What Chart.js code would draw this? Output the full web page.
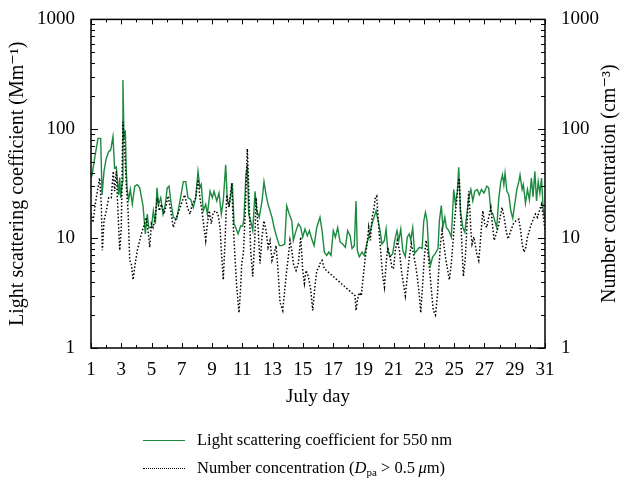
<!DOCTYPE html>
<html>
<head>
<meta charset="utf-8">
<script src="https://cdn.jsdelivr.net/npm/chart.js@4.4.1/dist/chart.umd.min.js"></script>
<style>
  body { margin: 0; background: #fff; }
  #wrap { position: relative; width: 628px; height: 487px; }
  #chart { position: absolute; left: 0; top: 0; }
  .key { position: absolute; left: 143px; font: 16.5px "Liberation Serif", serif; color: #000; white-space: nowrap; }
  .key .sample { position: absolute; left: 0; top: 50%; width: 42px; }
  .key .label { position: absolute; left: 54px; top: -10px; }
  .key sub { font-size: 11px; vertical-align: -3px; line-height: 0; }
</style>
</head>
<body>
<div id="wrap">
  <canvas id="chart" width="628" height="487"></canvas>
  <div class="key" style="top:440px">
    <div class="sample" style="border-top:1.3px solid #1b8a3e"></div>
    <div class="label">Light scattering coefficient for 550&#8201;nm</div>
  </div>
  <div class="key" style="top:468px">
    <div class="sample" style="border-top:1.3px dotted #000"></div>
    <div class="label">Number concentration (<i>D</i><sub>pa</sub> &gt; 0.5&#8201;<i>μ</i>m)</div>
  </div>
</div>
<script>
// light scattering coefficient, Mm-1
const scatDays = [1.0, 1.07, 1.25, 1.46, 1.64, 1.73, 1.86, 2.01, 2.17, 2.3, 2.45, 2.56, 2.67, 2.83, 2.9, 2.96, 3.07, 3.11, 3.18, 3.27, 3.33, 3.4, 3.49, 3.6, 3.73, 3.89, 4.06, 4.22, 4.44, 4.59, 4.72, 4.81, 4.99, 5.12, 5.25, 5.36, 5.47, 5.61, 5.76, 5.91, 6.04, 6.16, 6.27, 6.44, 6.66, 6.88, 7.1, 7.26, 7.41, 7.59, 7.76, 7.92, 8.07, 8.2, 8.29, 8.42, 8.58, 8.69, 8.87, 9.02, 9.13, 9.31, 9.46, 9.61, 9.74, 9.9, 10.01, 10.14, 10.34, 10.45, 10.56, 10.72, 10.89, 11.03, 11.11, 11.24, 11.33, 11.42, 11.55, 11.69, 11.84, 11.95, 12.12, 12.3, 12.43, 12.57, 12.7, 12.83, 12.96, 13.1, 13.27, 13.45, 13.62, 13.8, 13.93, 14.1, 14.27, 14.37, 14.55, 14.7, 14.86, 14.99, 15.14, 15.3, 15.43, 15.59, 15.74, 15.92, 16.13, 16.27, 16.42, 16.58, 16.71, 16.86, 17.01, 17.15, 17.3, 17.46, 17.63, 17.81, 17.96, 18.12, 18.25, 18.4, 18.51, 18.6, 18.73, 18.91, 19.06, 19.22, 19.35, 19.51, 19.66, 19.84, 19.97, 20.1, 20.23, 20.39, 20.5, 20.61, 20.76, 20.94, 21.07, 21.22, 21.34, 21.47, 21.6, 21.77, 21.9, 22.04, 22.13, 22.26, 22.39, 22.55, 22.7, 22.88, 22.99, 23.1, 23.21, 23.32, 23.43, 23.58, 23.76, 23.93, 24.02, 24.15, 24.25, 24.38, 24.48, 24.64, 24.81, 24.97, 25.08, 25.21, 25.3, 25.41, 25.57, 25.7, 25.85, 25.96, 26.1, 26.23, 26.36, 26.53, 26.66, 26.8, 26.97, 27.15, 27.28, 27.42, 27.55, 27.68, 27.81, 27.95, 28.08, 28.19, 28.28, 28.36, 28.48, 28.61, 28.74, 28.87, 29.0, 29.14, 29.27, 29.35, 29.49, 29.57, 29.71, 29.84, 29.97, 30.1, 30.21, 30.33, 30.44, 30.55, 30.66, 30.77, 30.88, 31.0];
const scatValues = [36, 38, 55, 82, 82, 25, 41, 54, 62, 64, 85, 44, 45, 25, 36, 23.5, 33, 280, 82, 97, 41, 27, 22.7, 28, 20.5, 30, 31, 29, 19.8, 11, 16.7, 12.6, 12.6, 17.9, 13.6, 29, 20.5, 23.5, 16.7, 20.5, 29, 30, 22, 15.6, 15, 22, 33, 33, 23.5, 22.7, 19.2, 23.5, 41, 29, 31, 17.9, 20.5, 16.7, 27, 23.5, 27, 22, 26, 16.7, 22, 47, 22, 20.5, 32, 13.6, 12.6, 11, 13, 13, 15.6, 38, 47, 16.7, 14.5, 11.8, 27, 17.9, 15.6, 22, 33, 25, 20.5, 17.9, 15.6, 12.6, 10.3, 8.6, 8.6, 8.9, 19.8, 16.7, 14.5, 9.6, 11.8, 13.6, 12.6, 10.3, 12.2, 10.6, 11.8, 9.9, 8.6, 12.6, 15.6, 11.8, 7.5, 7.0, 7.5, 7.0, 11.8, 10.3, 12.6, 9.3, 8.9, 8.3, 11.8, 10.6, 8.1, 8.6, 22, 7.8, 6.8, 7.5, 7.0, 8.9, 10.3, 12.6, 15, 17.9, 14.5, 11.8, 8.9, 9.6, 12.2, 7.8, 6.8, 7.3, 9.6, 11.8, 9.6, 12.2, 7.8, 6.8, 10.3, 11, 9.6, 12.5, 7.3, 7.8, 8.3, 8.1, 14.5, 17.3, 14.5, 7.3, 5.7, 6.8, 7.3, 8.1, 14.5, 20, 12.6, 15.6, 12.6, 11.8, 10.3, 28, 20.5, 27, 44.6, 17.9, 12.6, 11.4, 17.3, 23.5, 28, 22, 27, 28, 25, 28, 26, 30, 29, 17.9, 16.7, 14.5, 12.6, 23.5, 33, 38, 31, 39.5, 27, 25, 17.9, 15.3, 20.5, 28, 33, 38, 28, 31, 21, 28, 22.5, 35.6, 24, 41, 22, 33, 26, 35.6, 18.5, 15];

// particle number concentration (Dpa > 0.5 um), cm-3
const numDays = [1.0, 1.13, 1.28, 1.46, 1.57, 1.68, 1.75, 1.86, 2.01, 2.17, 2.34, 2.47, 2.56, 2.67, 2.78, 2.9, 3.0, 3.11, 3.23, 3.33, 3.45, 3.56, 3.66, 3.78, 3.89, 4.06, 4.22, 4.39, 4.55, 4.65, 4.77, 4.88, 4.99, 5.1, 5.25, 5.38, 5.51, 5.65, 5.82, 5.94, 6.09, 6.27, 6.44, 6.6, 6.82, 7.03, 7.19, 7.37, 7.54, 7.7, 7.92, 8.07, 8.2, 8.36, 8.47, 8.58, 8.69, 8.82, 8.95, 9.08, 9.24, 9.39, 9.53, 9.61, 9.74, 9.86, 9.97, 10.12, 10.3, 10.41, 10.5, 10.63, 10.78, 10.89, 10.96, 11.07, 11.18, 11.33, 11.44, 11.55, 11.69, 11.82, 11.91, 12.04, 12.17, 12.3, 12.43, 12.57, 12.7, 12.83, 12.96, 13.1, 13.23, 13.36, 13.49, 13.67, 13.82, 13.93, 14.04, 14.15, 14.27, 14.37, 14.55, 14.7, 14.86, 14.99, 15.1, 15.21, 15.36, 15.52, 15.65, 15.79, 15.92, 16.05, 16.13, 16.27, 16.42, 18.45, 18.51, 18.62, 18.73, 18.86, 18.99, 19.13, 19.24, 19.35, 19.46, 19.57, 19.68, 19.79, 19.88, 19.97, 20.06, 20.17, 20.28, 20.39, 20.5, 20.61, 20.76, 20.9, 21.0, 21.11, 21.24, 21.38, 21.51, 21.64, 21.77, 21.9, 22.04, 22.17, 22.3, 22.43, 22.56, 22.7, 22.79, 22.92, 23.03, 23.14, 23.27, 23.38, 23.49, 23.62, 23.76, 23.89, 23.98, 24.09, 24.2, 24.31, 24.42, 24.53, 24.68, 24.81, 24.93, 25.04, 25.14, 25.26, 25.34, 25.43, 25.52, 25.61, 25.74, 25.87, 25.96, 26.03, 26.1, 26.18, 26.3, 26.49, 26.62, 26.7, 26.8, 26.89, 27.02, 27.15, 27.28, 27.42, 27.5, 27.64, 27.77, 27.9, 28.03, 28.16, 28.3, 28.43, 28.56, 28.74, 28.91, 29.08, 29.27, 29.39, 29.51, 29.62, 29.73, 29.84, 29.97, 30.1, 30.23, 30.37, 30.5, 30.63, 30.77, 30.9, 31.0];
const numValues = [17, 14, 20.5, 29, 35.6, 20.5, 7.8, 14.5, 17.9, 23.5, 23.5, 41, 27, 41, 17.9, 7.8, 12.6, 116, 62, 31, 17.9, 6.3, 5.9, 4.2, 5.5, 7.8, 9.6, 11.8, 13.6, 15.6, 11.8, 8.3, 13.6, 12.6, 15.6, 23.5, 17.9, 20.5, 16.7, 19.2, 24.4, 17.9, 12.6, 15, 17.9, 22, 25, 19.2, 16.7, 20.5, 23.5, 34.4, 23.5, 16.7, 12.6, 9.6, 13.6, 17.9, 13.6, 17.3, 17.9, 16.7, 12.6, 7.8, 4.2, 9.6, 25, 19.2, 32, 12.6, 7.3, 3.6, 2.1, 3.6, 5.9, 7.3, 15.6, 66, 23.5, 7.8, 4.5, 9.6, 23.5, 12.6, 5.9, 10.3, 14.5, 11.8, 8.3, 9.6, 6.3, 7.3, 8.6, 5.1, 2.6, 2.2, 3.6, 5.1, 6.8, 9.6, 7.8, 5.9, 5.1, 5.9, 10.3, 5.1, 3.9, 5.1, 4.5, 3.4, 2.2, 3.6, 5.1, 5.4, 5.9, 6.3, 5.3, 3.0, 2.2, 2.8, 3.2, 3.0, 4.5, 6.8, 8.9, 12.6, 9.6, 15.6, 17.9, 23.5, 24.4, 15.6, 10.3, 6.8, 4.5, 3.6, 5.9, 8.3, 6.8, 5.3, 5.4, 7.8, 9.6, 7.8, 5.1, 3.9, 3.0, 4.5, 6.8, 8.9, 7.3, 5.9, 4.5, 3.0, 2.1, 3.9, 6.8, 9.6, 7.3, 5.1, 3.4, 2.2, 2.0, 3.0, 5.1, 8.9, 11.8, 8.9, 6.8, 5.5, 4.2, 5.9, 9.6, 15.6, 20.5, 31, 35.6, 15.6, 7.8, 4.5, 6.8, 15.6, 27, 19.2, 11.8, 8.9, 10.3, 7.3, 6.3, 8.3, 12.6, 17.9, 13.6, 12.6, 15.6, 19.2, 14.5, 9.6, 11, 12.6, 15.6, 19.2, 15.6, 11.8, 9.9, 11.8, 13.6, 14.5, 15, 11.8, 8.6, 7.5, 8.3, 10.3, 11.8, 13.6, 15, 16.7, 15.6, 17.9, 20.5, 15.6, 11.8];

const dayLabels = [1, 3, 5, 7, 9, 11, 13, 15, 17, 19, 21, 23, 25, 27, 29, 31];
const decadeLabels = [1, 10, 100, 1000];

const serif = '"Liberation Serif", "DejaVu Serif", serif';

// every integer day gets a tick, 1..9 per decade on the log axes
const dayTicks = [];
for (let d = 1; d <= 31; d++) dayTicks.push(d);
const logTicks = [];
decadeLabels.forEach((p, i) => {
  if (i === decadeLabels.length - 1) { logTicks.push(p); return; }
  for (let m = 1; m < 10; m++) logTicks.push(p * m);
});

const pts = (xs, ys) => xs.map((x, i) => ({ x, y: ys[i] }));

// inward tick marks, frame and the rotated right-hand title
const frameTicks = {
  id: 'frameTicks',
  afterDraw(chart) {
    const { ctx, chartArea: a, scales } = chart;
    ctx.save();
    ctx.strokeStyle = '#000';
    ctx.lineWidth = 1;
    ctx.beginPath();
    dayTicks.forEach(d => {
      const px = Math.round(scales.x.getPixelForValue(d)) + 0.5;
      const len = dayLabels.includes(d) ? 5 : 3;
      ctx.moveTo(px, a.bottom); ctx.lineTo(px, a.bottom - len);
      ctx.moveTo(px, a.top); ctx.lineTo(px, a.top + len);
    });
    logTicks.forEach(v => {
      const major = decadeLabels.includes(v);
      const len = major ? 7 : 4;
      const pl = Math.round(scales.y.getPixelForValue(v)) + 0.5;
      const pr = Math.round(scales.y2.getPixelForValue(v)) + 0.5;
      ctx.moveTo(a.left, pl); ctx.lineTo(a.left + len, pl);
      ctx.moveTo(a.right, pr); ctx.lineTo(a.right - len, pr);
    });
    ctx.stroke();
    ctx.lineWidth = 1.5;
    ctx.strokeRect(a.left, a.top, a.width, a.height);

    ctx.translate(610, (a.top + a.bottom) / 2);
    ctx.rotate(-Math.PI / 2);
    ctx.fillStyle = '#000';
    ctx.font = '20px ' + serif;
    ctx.textAlign = 'center';
    ctx.textBaseline = 'middle';
    ctx.fillText('Number concentration (cm\u207B\u00B3)', 0, 0);
    ctx.restore();
  }
};

const tickFont = { family: serif, size: 19 };

new Chart(document.getElementById('chart'), {
  type: 'line',
  data: {
    datasets: [
      { label: 'Light scattering coefficient for 550 nm', data: pts(scatDays, scatValues), yAxisID: 'y',
        borderColor: '#1b8a3e', borderWidth: 1.4, pointRadius: 0, tension: 0, order: 2 },
      { label: 'Number concentration', data: pts(numDays, numValues), yAxisID: 'y2',
        borderColor: '#000', borderWidth: 1.5, borderDash: [1.5, 2], pointRadius: 0, tension: 0, order: 1 },
    ]
  },
  options: {
    responsive: false,
    animation: false,
    layout: { padding: { top: 16, left: 0, right: 0, bottom: 79 } },
    plugins: { legend: { display: false }, tooltip: { enabled: false } },
    scales: {
      x: {
        type: 'linear', min: 1, max: 31,
        grid: { display: false }, border: { display: false },
        afterBuildTicks: s => { s.ticks = dayTicks.map(v => ({ value: v })); },
        afterFit: s => { s.height = 60; },
        ticks: { autoSkip: false, maxRotation: 0, padding: 3, color: '#000', font: tickFont,
          callback: v => dayLabels.includes(v) ? String(v) : '' },
        title: { display: true, text: 'July day', color: '#000', font: { family: serif, size: 19 }, padding: 0 }
      },
      y: {
        type: 'logarithmic', position: 'left', min: 1, max: 1000,
        grid: { display: false }, border: { display: false },
        afterBuildTicks: s => { s.ticks = logTicks.map(v => ({ value: v })); },
        afterFit: s => { s.width = 91; },
        ticks: { autoSkip: false, padding: 8, color: '#000', font: tickFont,
          callback: v => decadeLabels.includes(v) ? String(v) : '' },
        title: { display: true, text: 'Light scattering coefficient (Mm\u207B\u00B9)', color: '#000',
          font: { family: serif, size: 20 }, padding: { top: 6, bottom: 0 } }
      },
      y2: {
        type: 'logarithmic', position: 'right', min: 1, max: 1000,
        grid: { display: false }, border: { display: false },
        afterBuildTicks: s => { s.ticks = logTicks.map(v => ({ value: v })); },
        afterFit: s => { s.width = 83; },
        ticks: { autoSkip: false, padding: 8, color: '#000', font: tickFont,
          callback: v => decadeLabels.includes(v) ? String(v) : '' }
      }
    }
  },
  plugins: [frameTicks]
});
</script>
</body>
</html>
